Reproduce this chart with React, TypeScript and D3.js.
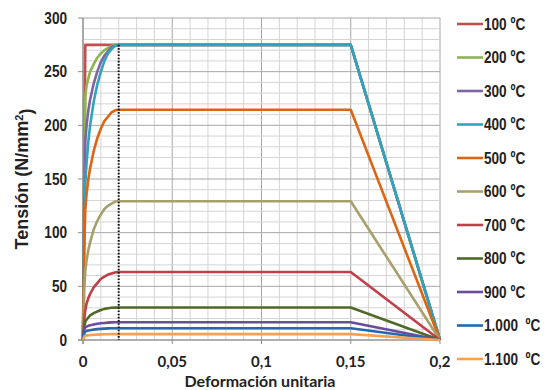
import React from "react";
import * as d3 from "d3";

const strains = [0, 0.0007, 0.0013, 0.002, 0.003, 0.004, 0.006, 0.008, 0.01, 0.012, 0.014, 0.016, 0.018, 0.02, 0.15, 0.2];

const s100 = [0, 147, 275, 275, 275, 275, 275, 275, 275, 275, 275, 275, 275, 275, 275, 0];
const s200 = [0, 132, 227, 237, 244, 250, 257, 263, 267, 270, 272, 274, 275, 275, 275, 0];
const s300 = [0, 118, 185, 200, 214, 224, 239, 250, 259, 265, 269, 273, 274, 275, 275, 0];
const s400 = [0, 103, 146, 165, 185, 200, 222, 238, 250, 260, 267, 271, 274, 275, 275, 0];
const s500 = [0, 88, 122, 136, 150, 160, 176, 188, 197, 204, 208, 212, 214, 214.5, 214.5, 0];
const s600 = [0, 46, 65, 74, 84, 91, 103, 111, 117, 122, 125, 127, 129, 129.3, 129.3, 0];
const s700 = [0, 19, 28, 34, 39, 43, 49, 53, 57, 59, 61, 62, 63, 63.3, 63.3, 0];
const s800 = [0, 13, 17, 19, 21, 23, 25, 26.5, 28, 29, 29.5, 30, 30.2, 30.3, 30.3, 0];
const s900 = [0, 10, 11.7, 12.4, 13.2, 13.7, 14.5, 15.1, 15.6, 15.9, 16.2, 16.4, 16.5, 16.5, 16.5, 0];
const s1000 = [0, 6.6, 7.8, 8.3, 8.8, 9.1, 9.7, 10.1, 10.4, 10.6, 10.8, 10.9, 11, 11, 11, 0];
const s1100 = [0, 3.3, 3.9, 4.15, 4.4, 4.55, 4.85, 5.05, 5.2, 5.3, 5.4, 5.45, 5.5, 5.5, 5.5, 0];

const seriesNames = ["100 ºC", "200 ºC", "300 ºC", "400 ºC", "500 ºC", "600 ºC", "700 ºC", "800 ºC", "900 ºC", "1.000  ºC", "1.100  ºC"];
const seriesValues = [s100, s200, s300, s400, s500, s600, s700, s800, s900, s1000, s1100];
const seriesColors = ["#C0504D", "#8DB44E", "#8064A2", "#2FA4BC", "#DD6410", "#A8A06C", "#C0404A", "#4F6A28", "#6A4C9A", "#2468AE", "#F9A04C"];

const xTicks = [0, 0.05, 0.1, 0.15, 0.2];
const xTickLabels = ["0", "0,05", "0,1", "0,15", "0,2"];
const yTicks = [0, 50, 100, 150, 200, 250, 300];
const yieldStrain = 0.02;
const yieldStress = 275;

const W = 547, H = 390;
const L = 83, R = 440, T = 18, B = 340;

export default function App() {
  const x = d3.scaleLinear().domain([0, 0.2]).range([L, R]);
  const y = d3.scaleLinear().domain([0, 300]).range([B, T]);
  const line = d3.line<[number, number]>().x(d => x(d[0])).y(d => y(d[1])).curve(d3.curveLinear);

  const xMinor = d3.range(0, 21).map(i => i * 0.01);
  const yMinor = d3.range(0, 31).map(i => i * 10);
  const arial = "'Liberation Sans', Arial, sans-serif";
  const calib = "Lato, 'Open Sans', sans-serif";

  return (
    <svg width={W} height={H} style={{ position: "absolute", left: 0, top: 0, background: "#fff" }}>
      <g>
        {xMinor.map((v, i) => (
          <line key={"xm" + i} x1={x(v)} x2={x(v)} y1={T} y2={B} stroke={i % 5 === 0 ? "#a6a6a6" : "#d4d4d4"} strokeWidth={1} />
        ))}
        {yMinor.map((v, i) => (
          <line key={"ym" + i} x1={L} x2={R} y1={y(v)} y2={y(v)} stroke={i % 5 === 0 ? "#a6a6a6" : "#d4d4d4"} strokeWidth={1} />
        ))}
      </g>
      <line x1={L} x2={L} y1={T} y2={B + 4} stroke="#8c8c8c" strokeWidth={1.2} />
      <line x1={L - 5} x2={R} y1={B} y2={B} stroke="#8c8c8c" strokeWidth={1.2} />
      {yTicks.map(v => (
        <line key={"yt" + v} x1={L - 5} x2={L} y1={y(v)} y2={y(v)} stroke="#8c8c8c" strokeWidth={1} />
      ))}
      {xTicks.map(v => (
        <line key={"xt" + v} x1={x(v)} x2={x(v)} y1={B} y2={B + 4} stroke="#8c8c8c" strokeWidth={1} />
      ))}
      {seriesValues.map((vals, si) => (
        <path key={"s" + si}
          d={line(strains.map((s, i) => [s, vals[i]] as [number, number])) || ""}
          fill="none" stroke={seriesColors[si]} strokeWidth={2.6} strokeLinejoin="round" />
      ))}
      <line x1={x(yieldStrain)} x2={x(yieldStrain)} y1={y(yieldStress)} y2={B} stroke="#111" strokeWidth={2} strokeDasharray="1.6 1.6" />
      {yTicks.map(v => (
        <text key={"yl" + v} transform={`translate(67,${y(v)}) scale(0.85,1)`} dy="0.35em" textAnchor="end" fontFamily={arial} fontWeight="bold" fontSize={16} fill="#222">{v}</text>
      ))}
      {xTicks.map((v, i) => (
        <text key={"xl" + v} x={x(v)} y={362} dy="0.35em" textAnchor="middle" fontFamily={calib} fontWeight="bold" fontSize={15} fill="#222">{xTickLabels[i]}</text>
      ))}
      <text x={260} y={381} dy="0.35em" textAnchor="middle" fontFamily={calib} fontWeight="bold" fontSize={16} fill="#222">Deformación unitaria</text>
      <text transform={`translate(22,${(T + B) / 2}) rotate(-90)`} dy="0.35em" textAnchor="middle" fontFamily={arial} fontWeight="bold" fontSize={18} fill="#222">
        Tensión (N/mm<tspan dy="-0.5em" fontSize={11}>2</tspan><tspan dy="0.5em">)</tspan>
      </text>
      {seriesNames.map((n, i) => {
        const ly = 24 + i * 33.5;
        return (
          <g key={"lg" + i}>
            <line x1={457} x2={483} y1={ly} y2={ly} stroke={seriesColors[i]} strokeWidth={2.6} />
            <text transform={`translate(484,${ly}) scale(0.8,1)`} dy="0.35em" fontFamily={arial} fontWeight="bold" fontSize={17} fill="#222" style={{ whiteSpace: "pre" }}>{n}</text>
          </g>
        );
      })}
    </svg>
  );
}
